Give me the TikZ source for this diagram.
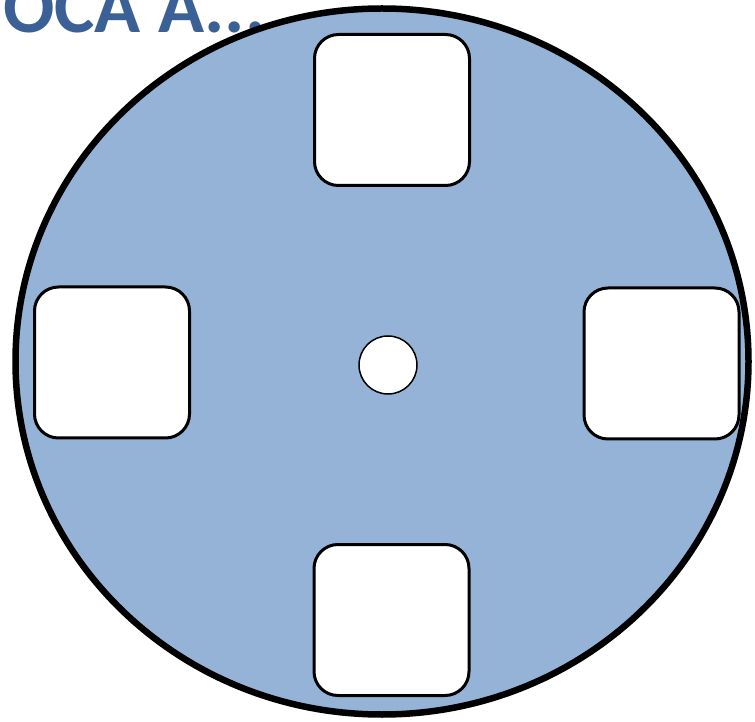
\documentclass[tikz,border=0pt]{standalone}
\usepackage{fontspec}
\setmainfont{Carlito}
\usetikzlibrary{shapes.geometric}
\definecolor{WheelFill}{HTML}{95B3D7}
\definecolor{TitleBlue}{HTML}{3B6095}
\tikzset{x=1pt,y=1pt,wheel/.style={ellipse,draw=black,fill=WheelFill,line width=6.5pt,
 minimum width=733pt,minimum height=706pt,inner sep=0pt},
 slot/.style={draw=black,fill=white,line width=3pt,rounded corners=24pt,
 minimum width=155pt,minimum height=151pt,inner sep=0pt},
 hub/.style={circle,draw=black,fill=white,line width=1.5pt,minimum size=58pt,inner sep=0pt}}
\begin{document}
\begin{tikzpicture}
\useasboundingbox (0,0) rectangle (755,721);
\node[anchor=base west,inner sep=0pt,text=TitleBlue,font=\bfseries\fontsize{76}{76}\selectfont]
 (title) at (3,688) {OCA A...};
\node[wheel] (wheel) at (382,359.5) {};
\node[slot] (top) at (392,611) {};
\node[slot] (left) at (112,358.5) {};
\node[slot] (right) at (661.5,357.5) {};
\node[slot] (bottom) at (391.5,101) {};
\node[hub] (hub) at (388,356) {};
\end{tikzpicture}
\end{document}
